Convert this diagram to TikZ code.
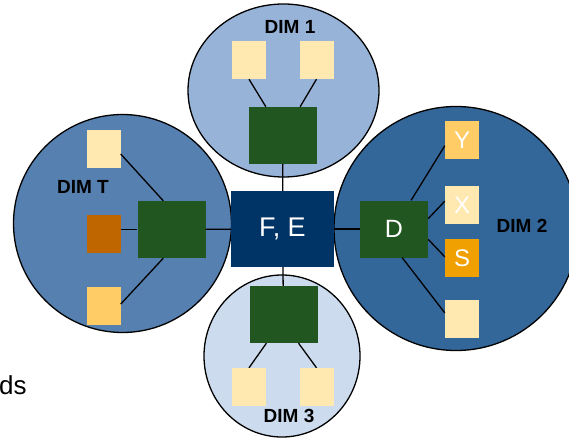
\documentclass[tikz,border=0pt]{standalone}
\usepackage{fontspec}
\setmainfont{Liberation Sans}
\usetikzlibrary{calc}

\definecolor{dimtblue}{HTML}{5580AF}
\definecolor{dimoneblue}{HTML}{98B3D8}
\definecolor{dimtwoblue}{HTML}{336699}
\definecolor{dimthreeblue}{HTML}{CCDCEE}
\definecolor{factnavy}{HTML}{003366}
\definecolor{hubgreen}{HTML}{215620}
\definecolor{paleyellow}{HTML}{FFE9B1}
\definecolor{lightorange}{HTML}{FFCC66}
\definecolor{darkorange}{HTML}{F0A000}
\definecolor{rustbrown}{HTML}{BF6600}

\begin{document}
\begin{tikzpicture}[
    x=1pt, y=-1pt,
    dimcircle/.style={
        draw,
        line width=1.3pt
    },
    fact/.style={
        fill=factnavy,
        text=white,
        inner sep=0pt,
        minimum width=103pt,
        minimum height=76pt,
        font=\fontsize{27}{30}\selectfont
    },
    hub/.style={
        fill=hubgreen,
        text=white,
        inner sep=0pt,
        minimum width=68pt,
        minimum height=57pt,
        font=\fontsize{25}{28}\selectfont
    },
    attr/.style={
        text=white,
        inner sep=0pt,
        minimum width=34pt,
        minimum height=38pt,
        font=\fontsize{24}{26}\selectfont
    },
    dimlabel/.style={
        font=\bfseries\fontsize{19}{21}\selectfont
    },
    link/.style={
        line width=1.3pt
    }
]
\useasboundingbox (0,0) rectangle (569,438);

% dimension circles
\draw[dimcircle, fill=dimtblue] (122.5,223.5) circle [radius=109];
\draw[dimcircle, fill=dimoneblue] (283.5,90.5) ellipse [x radius=95.5, y radius=86.5];
\draw[dimcircle, fill=dimtwoblue] (456,228.5) circle [radius=122];
\draw[dimcircle, fill=dimthreeblue] (282,356) ellipse [x radius=78, y radius=81];

% fact table
\node[fact] (fe) at (282.5,229) {F, E};

% DIM 1
\node[hub] (g1) at (283,135.5) {};
\node[attr, fill=paleyellow] (a1l) at (249,60) {};
\node[attr, fill=paleyellow] (a1r) at (316.5,60) {};
\node[dimlabel] (l1) at (290,27) {DIM 1};

\draw[link] (a1l.south) -- ($(g1.north west)!.25!(g1.north east)$);
\draw[link] (a1r.south) -- ($(g1.north west)!.75!(g1.north east)$);
\draw[link] (g1) -- (fe);

% DIM T
\node[hub] (gT) at (171.5,229.5) {};
\node[attr, fill=paleyellow] (aTt) at (103.5,149) {};
\node[attr, fill=rustbrown] (aTm) at (103.5,234) {};
\node[attr, fill=lightorange] (aTb) at (103.5,306) {};
\node[dimlabel] (lT) at (83,187) {DIM T};

\draw[link] ($(aTt.north east)!.63!(aTt.south east)$) -- ($(gT.north west)!.38!(gT.north east)$);
\draw[link] (aTm.east |- gT.west) -- (gT.west);
\draw[link] ($(aTb.north east)!.45!(aTb.south east)$) -- ($(gT.south west)!.38!(gT.south east)$);
\draw[link] (gT) -- (fe);

% DIM 2
\node[hub] (gD) at (394,229) {D};
\node[attr, fill=lightorange] (aY) at (462,140) {Y};
\node[attr, fill=paleyellow] (aX) at (462,205) {X};
\node[attr, fill=darkorange] (aS) at (462,258) {S};
\node[attr, fill=paleyellow] (aE) at (462,319) {};
\node[dimlabel] (l2) at (522,226) {DIM 2};

\draw[link] ($(gD.north west)!.75!(gD.north east)$) -- ($(aY.north west)!.65!(aY.south west)$);
\draw[link] ($(gD.north east)!.32!(gD.south east)$) -- ($(aX.north west)!.4!(aX.south west)$);
\draw[link] ($(gD.north east)!.68!(gD.south east)$) -- ($(aS.north west)!.47!(aS.south west)$);
\draw[link] ($(gD.south west)!.62!(gD.south east)$) -- ($(aE.north west)!.34!(aE.south west)$);
\draw[link] (fe) -- (gD);

% DIM 3
\node[hub] (g3) at (283.5,314.5) {};
\node[attr, fill=paleyellow] (a3l) at (249,387) {};
\node[attr, fill=paleyellow] (a3r) at (316.5,387) {};
\node[dimlabel] (l3) at (289,416) {DIM 3};

\draw[link] ($(g3.south west)!.25!(g3.south east)$) -- (a3l.north);
\draw[link] ($(g3.south west)!.72!(g3.south east)$) -- (a3r.north);
\draw[link] (fe) -- (g3);

% cut-off text at left
\node[anchor=base west, inner sep=0pt, font=\fontsize{26}{28}\selectfont] (ds) at (-1,394) {ds};

\end{tikzpicture}
\end{document}
